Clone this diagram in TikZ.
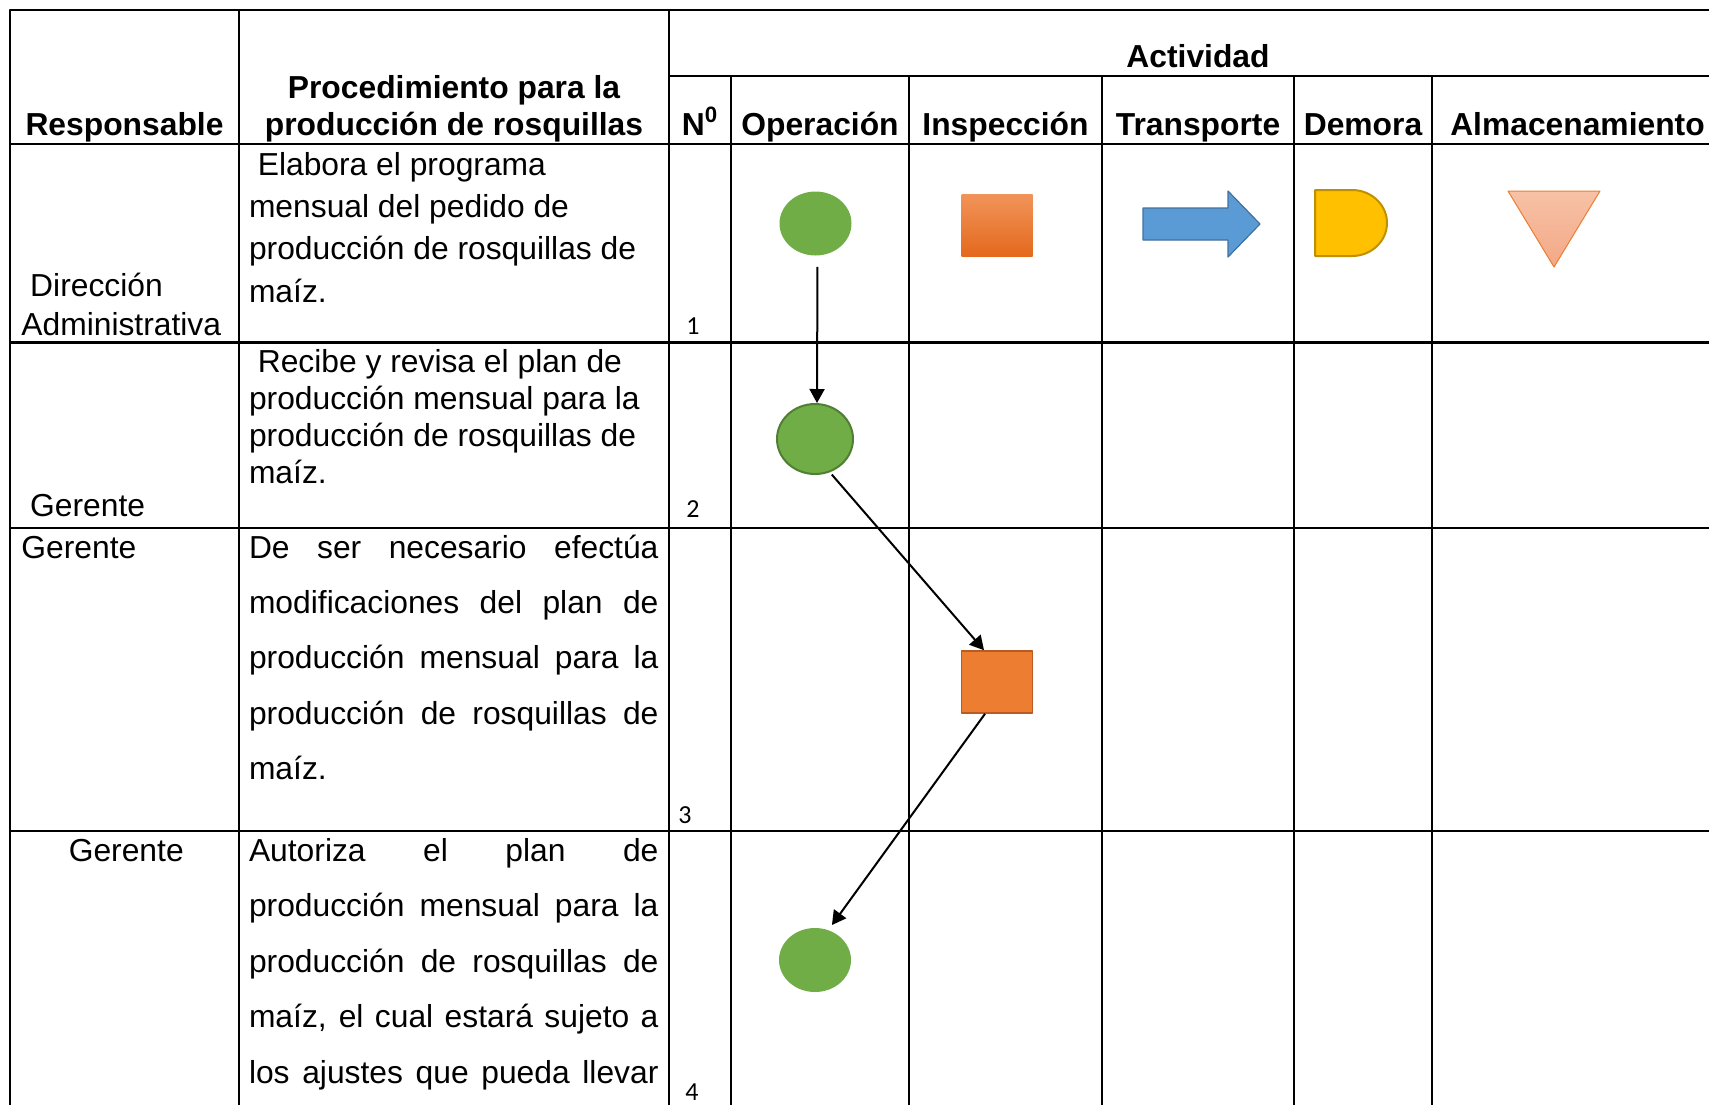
\documentclass[tikz,border=0pt]{standalone}
\usepackage{fontspec}
\setmainfont{Liberation Sans}
\newfontfamily\numfont{Carlito}
\usetikzlibrary{arrows.meta,shapes.geometric}
\definecolor{verde}{HTML}{70AD47}
\definecolor{verdeosc}{HTML}{507E32}
\definecolor{naranja}{HTML}{ED7D31}
\definecolor{naranjaosc}{HTML}{B85C23}
\definecolor{naranjaclaro}{HTML}{F1945A}
\definecolor{naranjafondo}{HTML}{E4691D}
\definecolor{azul}{HTML}{5B9BD5}
\definecolor{azulosc}{HTML}{41719C}
\definecolor{amarillo}{HTML}{FFC000}
\definecolor{amarilloosc}{HTML}{BF9000}
\definecolor{salmon}{HTML}{F7C2A6}
\definecolor{salmonosc}{HTML}{F3A886}
\newcommand\jus[1]{\hbox to 204.75pt{\spaceskip=.278em plus 1fil\relax #1}}
\begin{document}
\begin{tikzpicture}[x=0.5pt,y=-0.5pt,font=\fontsize{15.9pt}{19pt}\selectfont, line join=round, >={Triangle[length=7pt,width=7.5pt]}]
	\useasboundingbox(0,0)rectangle(1709,1105);
	\tikzset{txt/.style={anchor=base west,inner sep=0pt},
		hd/.style={anchor=base,inner sep=0pt,font=\fontsize{15.9pt}{19pt}\selectfont\bfseries},
		num/.style={anchor=base west,inner sep=0pt,font=\numfont\fontsize{13pt}{15pt}\selectfont},
		Operacion/.style={ellipse,fill=verde,minimum width=36pt,minimum height=32pt,inner sep=0pt},
		Inspeccion/.style={rectangle,minimum width=35.5pt,minimum height=31pt,inner sep=0pt}}
	%%%%%%%%% Transporte
	\tikzset{Icon-transporte/.pic={
			\draw[fill=azul,draw=azulosc,line width=0.6pt](-57,-16)--(28,-16)--(28,-33)--(60,0)--(28,33)--(28,16)--(-57,16)--cycle;
	}}
	%%%%%%%%% Demora
	\tikzset{Icon-demora/.pic={
			\draw[fill=amarillo,draw=amarilloosc,line width=1pt](-36,-33)--(1,-33)arc[start angle=-90,end angle=90,x radius=35,y radius=33]--(-36,33)--cycle;
	}}
	%%%%%%%%% Almacenamiento
	\tikzset{Icon-almacen/.pic={
			\draw[top color=salmon,bottom color=salmonosc,draw=naranja,line width=0.5pt](-46,-38)--(46,-38)--(0,38)--cycle;
	}}
	%%%%%%%%% Tabla
	\begin{scope}[line width=1.2pt]
		\draw(1709,10)--(10,10)--(10,1105)(239,10)--(239,1105)(669,10)--(669,1105);
		\draw(669,76)--(1709,76);
		\foreach \x in {731,909,1102,1294,1432}
		\draw(\x,76)--(\x,1105);
		\foreach \y in {144,342.5,528,831}
		\draw(10,\y)--(1709,\y);
	\end{scope}
	%%%%%%%%% Encabezado
	\node[hd](resp) at (124.5,135){Responsable};
	\node[hd](proc-a) at (454,98.5){Procedimiento para la};
	\node[hd](proc-b) at (454,135){producción de rosquillas};
	\node[hd](act) at (1198,67){Actividad};
	\foreach \x/\t [count=\i] in {700/N\textsuperscript{0},820/Operación,1005.5/Inspección,1198/Transporte,1363/Demora,1577.5/Almacenamiento}
	\node[hd](col\i) at (\x,135){\t};
	%%%%%%%%% Fila 1
	\node[txt](resp1a) at (21,296.7){\ Dirección};
	\node[txt](resp1b) at (21,335){Administrativa};
	\foreach \t [count=\i] in {\ Elabora el programa,mensual del pedido de,producción de rosquillas de,maíz.}
	\node[txt](paso1-\i) at ({248.6},{175+42.4*(\i-1)}){\t};
	\node[num](n1) at (686,334){1};
	%%%%%%%%% Fila 2
	\node[txt](resp2) at (21,516.7){\ Gerente};
	\foreach \t [count=\i] in {\ Recibe y revisa el plan de,producción mensual para la,producción de rosquillas de,maíz.}
	\node[txt](paso2-\i) at ({248.6},{372+37.1*(\i-1)}){\t};
	\node[num](n2) at (686,517.7){2};
	%%%%%%%%% Fila 3
	\node[txt](resp3) at (21,558.4){Gerente};
	\foreach \t [count=\i] in {De ser necesario efectúa,modificaciones del plan de,producción mensual para la,producción de rosquillas de,maíz.}
	\node[txt](paso3-\i) at ({248.6},{558.4+55.2*(\i-1)}){\jus{\t}};
	\node[num](n3) at (678,823){3};
	%%%%%%%%% Fila 4
	\node[txt](resp4) at (68.4,861.4){Gerente};
	\foreach \t [count=\i] in {Autoriza el plan de,producción mensual para la,producción de rosquillas de,{maíz, el cual estará sujeto a},los ajustes que pueda llevar}
	\node[txt](paso4-\i) at ({248.6},{861.4+55.5*(\i-1)}){\jus{\t}};
	\node[num](n4) at (685,1100){4};
	%%%%%%%%% Simbolos
	\node[Operacion](op1) at (815.5,223.5){};
	\node[Inspeccion,top color=naranjaclaro,bottom color=naranjafondo](ins1) at (997,225){};
	\path(1200,224)pic{Icon-transporte}(1351,223)pic{Icon-demora}(1554,229)pic{Icon-almacen};
	\node[Operacion,draw=verdeosc,line width=1pt,minimum width=38pt,minimum height=35pt](op2) at (815,439){};
	\node[Inspeccion,fill=naranja,draw=naranjaosc,line width=0.8pt](ins3) at (997,682){};
	\node[Operacion](op4) at (815,960){};
	%%%%%%%%% Flechas
	\begin{scope}[line width=1pt]
		\draw[->,shorten <=5.5pt]([xshift=1pt]op1.south)--([xshift=1pt]op2.north);
		\draw[->,shorten <=1.5pt](op2.-66)--([xshift=-6.5pt]ins3.north);
		\draw[->,shorten >=3pt]([xshift=-6pt]ins3.south)--(op4.66);
	\end{scope}
\end{tikzpicture}
\end{document}
